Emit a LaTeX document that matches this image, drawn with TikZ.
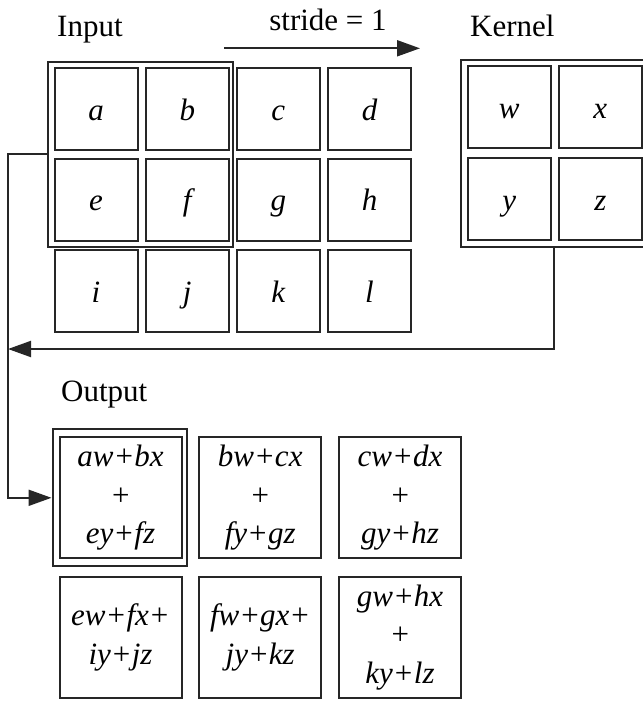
\documentclass[tikz,border=0pt]{standalone}
\usepackage{fontspec}
\setmainfont{Liberation Serif}
\usetikzlibrary{arrows.meta,fit,positioning}
\definecolor{gridline}{HTML}{262626}

\begin{document}
\begin{tikzpicture}[x=1pt,y=-1pt,font=\fontsize{31}{38.5}\selectfont,
    cell/.style={draw=gridline,line width=2pt,inner sep=0pt,minimum width=83pt,
      minimum height=82pt,text height=28pt,text depth=6pt,
      font=\fontsize{31}{38.5}\selectfont\itshape},
    outcell/.style={cell,minimum width=122pt,minimum height=121pt,align=center,
      text height=,text depth=},
    frame/.style={draw=gridline,line width=2pt,inner xsep=4.5pt,inner ysep=5.5pt,
      xshift=-1pt},
    caption/.style={inner sep=0pt,anchor=base west},
    link/.style={draw=gridline,line width=2pt,-{Triangle[length=23pt,width=16pt]}}]
    \useasboundingbox (0,0) rectangle (643,702);

    \node[caption] (inlabel) at (57,36.7) {Input};
    \node[caption] (klabel) at (470,36.7) {Kernel};
    \node[caption] (outlabel) at (61,401.7) {Output};
    \node[inner sep=0pt,anchor=base] (stride) at (328,30) {stride = 1};
    \coordinate (s0) at (224,48.3);
    \coordinate (s1) at (420,48.3);
    \draw[link] (s0) -- (s1);

    % input grid
    \foreach \l/\x in {a/96,b/187.3,c/278.3,d/369.5}
      \node[cell] (in-\l) at (\x,109) {\l};
    \foreach \l/\x in {e/96,f/187.3,g/278.3,h/369.5}
      \node[cell] (in-\l) at (\x,199.7) {\l};
    \foreach \l/\x in {i/96,j/187.3,k/278.3,l/369.5}
      \node[cell] (in-\l) at (\x,291) {\l};

    % kernel
    \foreach \l/\x in {w/509.3,x/600.3}
      \node[cell] (k-\l) at (\x,107) {\l};
    \foreach \l/\x in {y/509.3,z/600.3}
      \node[cell] (k-\l) at (\x,199) {\l};

    % output
    \node[outcell] (out-1) at (120.5,497.8) {aw+bx\\+\\ey+fz};
    \node[outcell] (out-2) at (260.2,497.8) {bw+cx\\+\\fy+gz};
    \node[outcell] (out-3) at (400,497.8) {cw+dx\\+\\gy+hz};
    \node[outcell] (out-4) at (120.5,637.2) {ew+fx+\\iy+jz};
    \node[outcell] (out-5) at (260.2,637.2) {fw+gx+\\jy+kz};
    \node[outcell] (out-6) at (400,637.2) {gw+hx\\+\\ky+lz};

    \node[frame,fit=(in-a)(in-f)] (inframe) {};
    \node[frame,fit=(k-w)(k-z)] (kframe) {};
    \node[frame,inner xsep=5pt,inner ysep=7pt,fit=(out-1)] (outframe) {};

    \coordinate (bend) at (8,349);
    \draw[link] (kframe.south) |- (bend);
    \draw[link] (inframe.west) -| (bend) |- (outframe.west);
  \end{tikzpicture}
\end{document}
